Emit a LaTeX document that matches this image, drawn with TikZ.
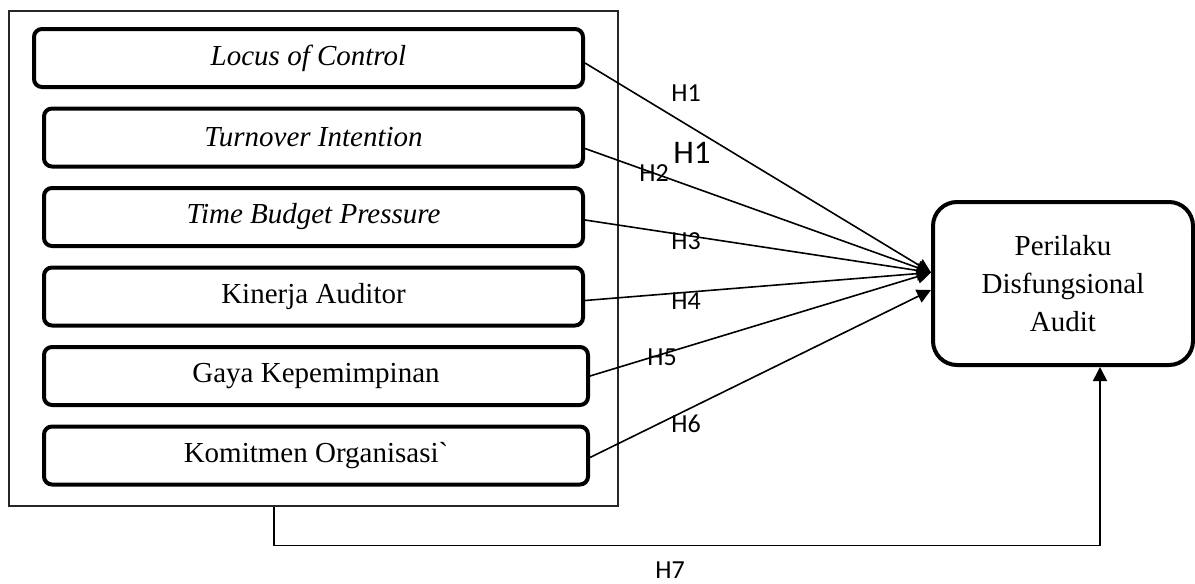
\documentclass[tikz,border=0pt]{standalone}
\usepackage{fontspec}
\setmainfont{Liberation Serif}
\newfontfamily\hfont{Carlito}
\usetikzlibrary{arrows.meta,positioning}

\begin{document}
\begin{tikzpicture}[
    x=0.5pt, y=-0.5pt,
    varbox/.style={
    draw=black,
    line width=2pt,
    rounded corners=4pt,
    inner sep=0pt,
    minimum height=29pt,
    font=\fontsize{14.5}{17}\selectfont},
    dvbox/.style={
    draw=black,
    line width=2pt,
    rounded corners=12pt,
    align=center,
    inner sep=0pt,
    minimum width=130pt,
    minimum height=81.5pt,
    font=\fontsize{14.5}{19}\selectfont},
    hlabel/.style={font=\hfont\fontsize{13}{14}\selectfont, inner sep=0pt},
    myarrow/.style={-{Triangle[length=7pt,width=7pt]}, line width=0.8pt},
    node distance=8.75pt
    ]
    \useasboundingbox (0,0) rectangle (1195,584);

    % outer frame
    \node[draw=black!85, line width=0.6pt, minimum width=304.5pt, minimum height=247.5pt, inner sep=0pt] (frame) at (313.5,258.5) {};

    % independent variables
    \node[varbox, minimum width=274.5pt] (locus) at (308.5,58) {\textit{Locus of Control}};
    \node[varbox, minimum width=269.5pt, below=of locus.south east, anchor=north east] (turnover) {\textit{Turnover Intention}};
    \node[varbox, minimum width=269.5pt, below=of turnover.south east, anchor=north east] (tbp) {\textit{Time Budget Pressure}};
    \node[varbox, minimum width=269.5pt, below=of tbp.south east, anchor=north east] (kinerja) {Kinerja Auditor};
    \node[varbox, minimum width=272pt, below=of kinerja.south east, anchor=north east, xshift=2.5pt] (gaya) {Gaya Kepemimpinan};
    \node[varbox, minimum width=272pt, below=of gaya.south east, anchor=north east] (komitmen) {Komitmen Organisasi\textasciigrave};

    % dependent variable
    \node[dvbox] (dv) at (1063,283.5) {Perilaku\\Disfungsional\\Audit};
    \coordinate (tipA) at ([yshift=5.5pt]dv.west);
    \coordinate (tipB) at ([yshift=-3.25pt]dv.west);

    \draw[myarrow] ([yshift=-2.5pt]locus.east) -- (tipA);
    \draw[myarrow] ([yshift=-5.5pt]turnover.east) -- (tipA);
    \draw[myarrow] ([yshift=-1.5pt]tbp.east) -- (tipA);
    \draw[myarrow] ([yshift=-2pt]kinerja.east) -- (tipA);
    \draw[myarrow] (gaya.east) -- (tipA);
    \draw[myarrow] ([yshift=-1pt]komitmen.east) -- (tipB);
    \draw[myarrow] ([xshift=-19.75pt]frame.south) -- ++(0,39) -| ([xshift=18.5pt]dv.south);

    \node[hlabel] (h1) at (686,93) {H1};
    \node[hlabel, font=\hfont\fontsize{16.5}{18}\selectfont] (h1b) at (692,153) {H1};
    \node[hlabel] (h2) at (654,173) {H2};
    \node[hlabel] (h3) at (686,241) {H3};
    \node[hlabel] (h4) at (686,301) {H4};
    \node[hlabel] (h5) at (662,357) {H5};
    \node[hlabel] (h6) at (686,424) {H6};
    \node[hlabel] (h7) at (670,570) {H7};
\end{tikzpicture}
\end{document}
